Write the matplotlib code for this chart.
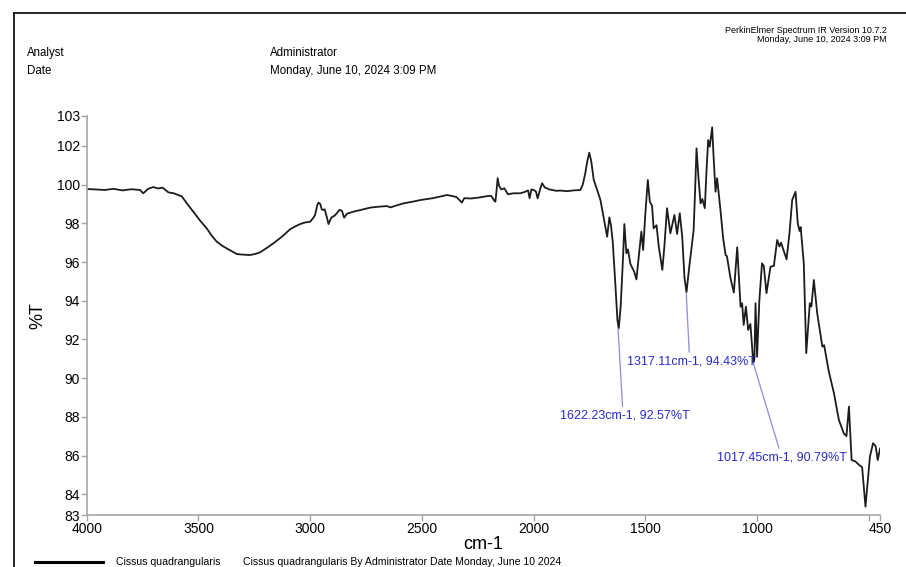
import matplotlib
matplotlib.use("Agg")
import matplotlib.pyplot as plt
from matplotlib.lines import Line2D

plt.rcParams['font.family'] = ['Liberation Sans', 'DejaVu Sans']

# Spectrum (wavenumber cm-1, %T)
wavenumber = [
    4000, 3960, 3920, 3880, 3840, 3800, 3761, 3747, 3725, 3702, 3680, 3660, 3635, 3610,
    3582, 3575, 3550, 3523, 3490, 3463, 3440, 3418, 3395, 3373, 3350, 3328, 3300, 3269,
    3245, 3224, 3195, 3164, 3125, 3090, 3065, 3045, 3020, 3000, 2985, 2978, 2968, 2963,
    2955, 2948, 2943, 2935, 2925, 2918, 2905, 2890, 2875, 2869, 2858, 2848, 2835, 2800,
    2770, 2731, 2700, 2657, 2640, 2620, 2582, 2540, 2507, 2450, 2388, 2360, 2345, 2321,
    2310, 2280, 2239, 2210, 2190, 2175, 2171, 2165, 2161, 2155, 2145, 2131, 2115, 2090,
    2060, 2040, 2025, 2018, 2010, 2000, 1990, 1982, 1970, 1962, 1950, 1930, 1900, 1880,
    1850, 1820, 1791, 1780, 1769, 1760, 1751, 1742, 1731, 1715, 1701, 1685, 1671, 1661,
    1654, 1646, 1635, 1625, 1619, 1610, 1600, 1594, 1585, 1578, 1567, 1550, 1540, 1530,
    1518, 1510, 1500, 1489, 1480, 1470, 1463, 1450, 1440, 1424, 1415, 1403, 1388, 1370,
    1358, 1346, 1335, 1325, 1316, 1305, 1284, 1278, 1271, 1262, 1253, 1245, 1234, 1226,
    1219, 1212, 1201, 1195, 1186, 1179, 1164, 1152, 1141, 1135, 1119, 1104, 1089, 1074,
    1067, 1060, 1050, 1040, 1030, 1020, 1017, 1012, 1007, 1000, 990, 978, 970, 958,
    940, 925, 910, 900, 893, 868, 855, 843, 828, 818, 810, 805, 791, 780,
    764, 757, 746, 731, 708, 700, 679, 656, 634, 612, 600, 589, 577, 560,
    544, 530, 515, 495, 481, 470, 460, 450,
]
transmittance = [
    99.77, 99.75, 99.72, 99.78, 99.70, 99.76, 99.72, 99.55, 99.78, 99.87, 99.80, 99.84, 99.60, 99.55,
    99.42, 99.40, 99.00, 98.60, 98.10, 97.74, 97.35, 97.05, 96.85, 96.70, 96.55, 96.41, 96.38, 96.36,
    96.42, 96.50, 96.72, 96.97, 97.32, 97.69, 97.85, 97.96, 98.05, 98.08, 98.30, 98.43, 98.95, 99.07,
    99.00, 98.72, 98.69, 98.72, 98.30, 97.96, 98.30, 98.40, 98.60, 98.69, 98.65, 98.29, 98.50, 98.62,
    98.70, 98.81, 98.85, 98.89, 98.82, 98.90, 99.03, 99.12, 99.20, 99.30, 99.46, 99.40, 99.35, 99.07,
    99.30, 99.28, 99.34, 99.40, 99.42, 99.15, 99.12, 99.80, 100.33, 99.95, 99.75, 99.81, 99.50, 99.55,
    99.55, 99.62, 99.70, 99.30, 99.75, 99.72, 99.65, 99.29, 99.80, 100.07, 99.85, 99.75, 99.68, 99.69,
    99.66, 99.70, 99.72, 100.00, 100.58, 101.20, 101.65, 101.20, 100.24, 99.70, 99.20, 98.20, 97.31, 98.31,
    97.90, 97.05, 95.00, 93.00, 92.57, 93.80, 96.20, 97.96, 96.45, 96.65, 95.90, 95.50, 95.10, 96.20,
    97.57, 96.62, 98.50, 100.24, 99.12, 98.90, 97.74, 97.90, 96.80, 95.59, 96.80, 98.78, 97.48, 98.43,
    97.45, 98.52, 97.30, 95.20, 94.43, 95.60, 97.65, 99.50, 101.87, 100.30, 99.03, 99.25, 98.78, 100.80,
    102.30, 101.96, 102.96, 101.50, 99.63, 100.33, 98.69, 97.23, 96.36, 96.30, 95.16, 94.42, 96.76, 93.69,
    93.87, 92.75, 93.69, 92.49, 92.80, 91.29, 90.79, 91.00, 93.87, 91.11, 94.00, 95.93, 95.80, 94.39,
    95.76, 95.80, 97.14, 96.80, 97.00, 96.14, 97.50, 99.20, 99.63, 98.00, 97.60, 97.80, 95.93, 91.29,
    93.87, 93.70, 95.07, 93.35, 91.63, 91.70, 90.34, 89.22, 87.84, 87.15, 87.01, 88.53, 85.77, 85.70,
    85.52, 85.40, 83.36, 85.95, 86.64, 86.50, 85.77, 86.36,
]

# Labelled peaks
peak_wn = [1622.23, 1317.11, 1017.45]
peak_t = [92.57, 94.43, 90.79]
peak_offsets = [(-41.5, -62.4), (-42.3, -49.4), (-25.7, -67.8)]

x_ticks = [4000, 3500, 3000, 2500, 2000, 1500, 1000, 500, 450]
x_labels = ['4000', '3500', '3000', '2500', '2000', '1500', '1000', '', '450']
y_min, y_max = 82.93, 103.56
y_ticks = [y_min, 84, 86, 88, 90, 92, 94, 96, 98, 100, 102, y_max]
y_labels = ['83', '84', '86', '88', '90', '92', '94', '96', '98', '100', '102', '103']

fig = plt.figure(figsize=(9.06, 5.67), dpi=100)
ax = fig.add_axes([0.0957, 0.0917, 0.8756, 0.7043])

ax.plot(wavenumber, transmittance, color='#1c1c1c', lw=1.3)
ax.set_xlim(4000, 450)
ax.set_ylim(y_min, y_max)

ax.set_xticks(x_ticks)
ax.set_xticklabels(x_labels)
ax.set_yticks(y_ticks)
ax.set_yticklabels(y_labels)

grey = '#a6a6a6'
for side in ['top', 'right']:
    ax.spines[side].set_visible(False)
for side in ['left', 'bottom']:
    ax.spines[side].set_color(grey)
    ax.spines[side].set_linewidth(1.2)
ax.tick_params(colors=grey, labelcolor='black', labelsize=10, length=4, width=1, pad=1)

ax.set_xlabel('cm-1', fontsize=13, labelpad=0)
ax.set_ylabel('%T', fontsize=13, labelpad=7)

for wn, t, off in zip(peak_wn, peak_t, peak_offsets):
    ax.annotate(f'{wn:.2f}cm-1, {t:.2f}%T', xy=(wn, t), xytext=off,
                textcoords='offset points', ha='left', va='center',
                fontsize=9, color='#2a2ac8',
                arrowprops=dict(arrowstyle='-', color='#8c8cd8', lw=0.9,
                                shrinkA=0, shrinkB=0, relpos=(0.48, 1.0)))

# header
fig.text(0.0298, 0.9065, 'Analyst', fontsize=8.3, va='center')
fig.text(0.0298, 0.8748, 'Date', fontsize=8.3, va='center')
fig.text(0.298, 0.9065, 'Administrator', fontsize=8.3, va='center')
fig.text(0.298, 0.8748, 'Monday, June 10, 2024 3:09 PM', fontsize=8.3, va='center')
fig.text(0.979, 0.947, 'PerkinElmer Spectrum IR Version 10.7.2', fontsize=6.5,
         ha='right', va='center')
fig.text(0.979, 0.9295, 'Monday, June 10, 2024 3:09 PM', fontsize=6.5,
         ha='right', va='center')

# legend row at the bottom
fig.add_artist(Line2D([35 / 906, 103 / 906], [0.0088, 0.0088], color='black', lw=2.2))
fig.text(0.128, 0.0088, 'Cissus quadrangularis', fontsize=7.6, va='center')
fig.text(0.268, 0.0088, 'Cissus quadrangularis By Administrator Date Monday, June 10 2024',
         fontsize=7.6, va='center')

# page frame
fig.add_artist(Line2D([14 / 906, 14 / 906], [0, 1 - 13 / 567], color='black', lw=1.2))
fig.add_artist(Line2D([14 / 906, 1], [1 - 13 / 567, 1 - 13 / 567], color='black', lw=1.2))

fig.savefig('out.png', dpi=100)
